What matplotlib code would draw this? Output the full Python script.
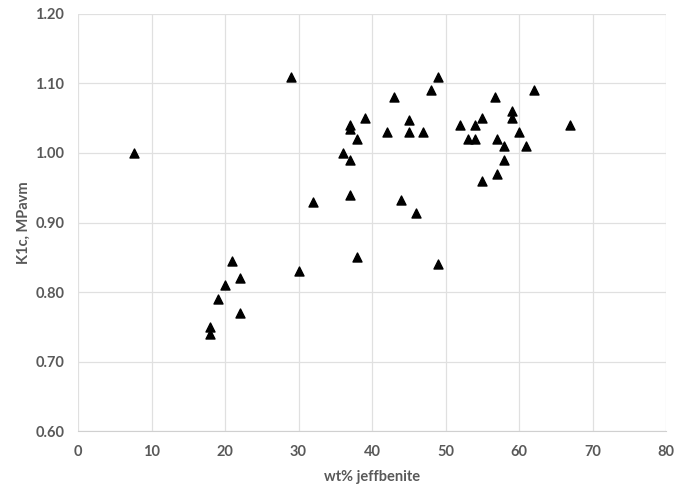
import matplotlib
matplotlib.use("Agg")
import matplotlib.pyplot as plt

plt.rcParams['font.family'] = ['Lato', 'DejaVu Sans']

# wt% jeffbenite vs K1c
jeffbenite = [7.6, 29, 32, 30, 18, 18, 19, 20, 21, 22, 22,
              36, 37, 37, 37, 37, 38, 38, 39, 42, 43, 44, 45, 45, 46, 47, 48, 49, 49,
              52, 53, 54, 54, 55, 55, 56.7, 57, 57, 58, 58, 59, 59, 60, 61, 62, 67]
k1c = [1.00, 1.11, 0.93, 0.83, 0.75, 0.74, 0.79, 0.81, 0.845, 0.82, 0.77,
       1.00, 1.035, 1.04, 0.99, 0.94, 1.02, 0.85, 1.05, 1.03, 1.08, 0.933, 1.047, 1.03, 0.913, 1.03, 1.09, 1.11, 0.84,
       1.04, 1.02, 1.02, 1.04, 1.05, 0.96, 1.08, 1.02, 0.97, 1.01, 0.99, 1.06, 1.05, 1.03, 1.01, 1.09, 1.04]

x_ticks = [0, 10, 20, 30, 40, 50, 60, 70, 80]
y_ticks = [0.60, 0.70, 0.80, 0.90, 1.00, 1.10, 1.20]

fig = plt.figure(figsize=(6.85, 4.96), dpi=100)
ax = fig.add_axes([0.1139, 0.131, 0.8584, 0.8408])

ax.scatter(jeffbenite, k1c, marker='^', s=42, color='black', zorder=3)

ax.set_xlim(0, 80)
ax.set_ylim(0.60, 1.20)
ax.set_xticks(x_ticks)
ax.set_yticks(y_ticks)
ax.set_yticklabels(['%.2f' % v for v in y_ticks])
ax.grid(True, color='#e0e0e0', linewidth=0.9)
ax.set_axisbelow(True)

for s in ['top', 'right', 'left']:
    ax.spines[s].set_visible(False)
ax.spines['bottom'].set_color('#d0d0d0')
ax.tick_params(length=0, labelsize=10.5, labelcolor='#595959', pad=10)
for lab in ax.get_xticklabels() + ax.get_yticklabels():
    lab.set_fontweight('bold')

ax.set_xlabel('wt% jeffbenite', fontsize=10.5, fontweight='bold', color='#595959', labelpad=8)
ax.set_ylabel('K1c, MPavm', fontsize=10.5, fontweight='bold', color='#595959', labelpad=3)

fig.savefig('out.png', dpi=100)
